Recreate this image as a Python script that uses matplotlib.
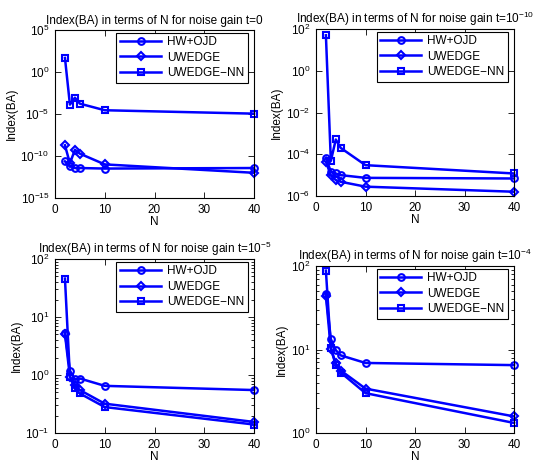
import matplotlib
matplotlib.use("Agg")
import matplotlib.pyplot as plt
from matplotlib.ticker import LogLocator, NullFormatter, NullLocator

plt.rcParams['font.family'] = ['Liberation Sans', 'DejaVu Sans']
plt.rcParams['mathtext.fontset'] = 'custom'
plt.rcParams['mathtext.rm'] = 'Liberation Sans'
plt.rcParams['mathtext.it'] = 'Liberation Sans:italic'
plt.rcParams['mathtext.bf'] = 'Liberation Sans:bold'

N = [2, 3, 4, 5, 10, 40]
labels = ['HW+OJD', 'UWEDGE', 'UWEDGE\u2212NN']
titles = ['Index(BA) in terms of N for noise gain t=0',
          'Index(BA) in terms of N for noise gain t=$10^{-10}$',
          'Index(BA) in terms of N for noise gain t=$10^{-5}$',
          'Index(BA) in terms of N for noise gain t=$10^{-4}$']

# t = 0
hw_t0 = [2.3e-11, 7e-12, 3.7e-12, 3.7e-12, 3.2e-12, 3.7e-12]
uw_t0 = [1.9e-9, 1.3e-11, 5.6e-10, 1.9e-10, 1e-11, 1e-12]
nn_t0 = [47, 1.3e-4, 8.7e-4, 1.7e-4, 2.8e-5, 1.1e-5]

# t = 1e-10
hw_t10 = [6.8e-5, 1.45e-5, 1.2e-5, 1.0e-5, 7.4e-6, 6.9e-6]
uw_t10 = [4.3e-5, 1.0e-5, 5.8e-6, 4.8e-6, 2.8e-6, 1.6e-6]
nn_t10 = [50, 4.8e-5, 5.1e-4, 2.0e-4, 3.0e-5, 1.2e-5]

# t = 1e-5
hw_t5 = [5.4, 1.19, 0.84, 0.87, 0.65, 0.55]
uw_t5 = [5.1, 0.93, 0.67, 0.55, 0.32, 0.155]
nn_t5 = [46, 0.93, 0.59, 0.48, 0.28, 0.14]

# t = 1e-4
hw_t4 = [46, 13.3, 9.8, 8.5, 6.9, 6.5]
uw_t4 = [44, 10.2, 6.8, 5.6, 3.4, 1.58]
nn_t4 = [88, 10.3, 6.5, 5.3, 3.0, 1.32]

series = [(hw_t0, uw_t0, nn_t0), (hw_t10, uw_t10, nn_t10),
          (hw_t5, uw_t5, nn_t5), (hw_t4, uw_t4, nn_t4)]
ylims = [(1e-15, 1e5), (1e-6, 1e2), (1e-1, 1e2), (1e0, 1e2)]
yticks = [[1e-15, 1e-10, 1e-5, 1e0, 1e5],
          [1e-6, 1e-4, 1e-2, 1e0, 1e2],
          [1e-1, 1e0, 1e1, 1e2],
          [1e0, 1e1, 1e2]]

W, H = 538, 462
boxes = [(55, 30, 254, 198), (316, 29, 514, 196),
         (55, 259, 254, 433), (316, 266, 514, 433)]
markers = [('o', 4.8), ('D', 4.3), ('s', 4.6)]

fig = plt.figure(figsize=(W / 100, H / 100), dpi=100)
for i in range(4):
    x0, y0, x1, y1 = boxes[i]
    ax = fig.add_axes([x0 / W, 1 - y1 / H, (x1 - x0) / W, (y1 - y0) / H])
    for vals, (m, ms), lab in zip(series[i], markers, labels):
        ax.plot(N, vals, color='#0000ff', lw=1.8, marker=m, ms=ms,
                mfc='none', mec='#0000ff', mew=1.5, label=lab, clip_on=False)
    ax.set_yscale('log')
    ax.set_xlim(0, 40)
    ax.set_ylim(*ylims[i])
    ax.set_xticks([0, 10, 20, 30, 40])
    ax.set_yticks(yticks[i])
    if i < 2:
        ax.yaxis.set_minor_locator(NullLocator())
    else:
        ax.yaxis.set_minor_locator(LogLocator(base=10, subs=range(2, 10)))
        ax.yaxis.set_minor_formatter(NullFormatter())
    ax.tick_params(which='both', direction='in', top=True, right=True,
                   labelsize=8.5, width=0.6, pad=4)
    ax.tick_params(which='major', length=4)
    ax.tick_params(which='minor', length=2)
    for s in ax.spines.values():
        s.set_linewidth(0.8)
    ax.set_xlabel('N', fontsize=8.5, labelpad=0)
    ax.set_ylabel('Index(BA)', fontsize=8.5, labelpad=2)
    ax.set_title(titles[i], fontsize=8.5, pad=4)
    leg = ax.legend(loc='upper right', bbox_to_anchor=(0.97, 0.985), borderaxespad=0,
                    fontsize=8.5, handlelength=3.5, fancybox=False, framealpha=1,
                    edgecolor='black', borderpad=0.3, labelspacing=0.3, handletextpad=0.5)
    leg.get_frame().set_linewidth(0.8)

fig.savefig('out.png', dpi=100)
